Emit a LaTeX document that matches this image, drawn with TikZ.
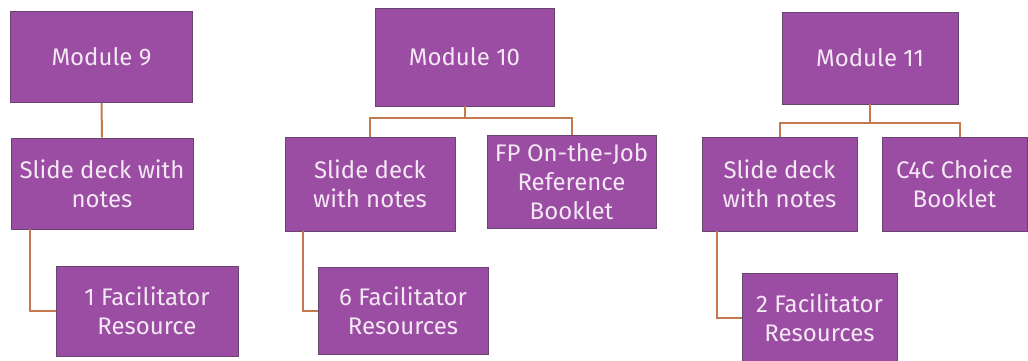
\documentclass[tikz,border=0pt]{standalone}
\usepackage{fontspec}
\setmainfont{Fira Sans}
\definecolor{modfill}{HTML}{9B4DA3}
\definecolor{modline}{HTML}{6A4470}
\definecolor{modtext}{HTML}{F4E8F4}
\definecolor{wire}{HTML}{C47A4E}
\tikzset{
  box/.style={draw=modline, line width=0.8pt, fill=modfill, text=modtext,
    align=center, inner sep=0pt, font=\fontsize{24}{29}\selectfont},
  link/.style={draw=wire, line width=2pt}
}

\begin{document}
\begin{tikzpicture}[x=1pt,y=-1pt]
  \useasboundingbox (0,0) rectangle (1028,360);
  % module 9
  \node[box, minimum width=182pt, minimum height=91pt] (m9) at (101.5,57) {Module 9};
  \node[box, minimum width=182pt, minimum height=91pt] (s9) at (102,183.5) {Slide deck with\\notes};
  \node[box, minimum width=182pt, minimum height=90pt] (f9) at (147,311) {1 Facilitator\\Resource};
  % module 10
  \node[box, minimum width=179pt, minimum height=98pt] (m10) at (464.5,57) {Module 10};
  \node[box, minimum width=170pt, minimum height=94pt] (s10) at (370,184) {Slide deck\\with notes};
  \node[box, minimum width=169pt, minimum height=93pt] (fp10) at (571.5,181.5) {FP On-the-Job\\Reference\\Booklet};
  \node[box, minimum width=170pt, minimum height=87pt] (f10) at (403,310.5) {6 Facilitator\\Resources};
  % module 11
  \node[box, minimum width=176pt, minimum height=92pt] (m11) at (870,58) {Module 11};
  \node[box, minimum width=155pt, minimum height=94pt] (s11) at (779.5,184) {Slide deck\\with notes};
  \node[box, minimum width=145pt, minimum height=94pt] (c11) at (954.5,184) {C4C Choice\\Booklet};
  \node[box, minimum width=155pt, minimum height=90pt] (f11) at (819.5,318) {2 Facilitator\\Resources};

  \draw[link] (m9.south) -- (s9.north);
  \draw[link] ([xshift=19pt]s9.south west) |- (f9.west);

  \draw[link] (m10.south) -- ++(0,12) -| (s10.north);
  \draw[link] (m10.south) -- ++(0,12) -| (fp10.north);
  \draw[link] ([xshift=18pt]s10.south west) |- (f10.west);

  \draw[link] (m11.south) -- ++(0,19) -| (s11.north);
  \draw[link] (m11.south) -- ++(0,19) -| ([xshift=5pt]c11.north);
  \draw[link] ([xshift=15pt]s11.south west) |- (f11.west);
\end{tikzpicture}
\end{document}
